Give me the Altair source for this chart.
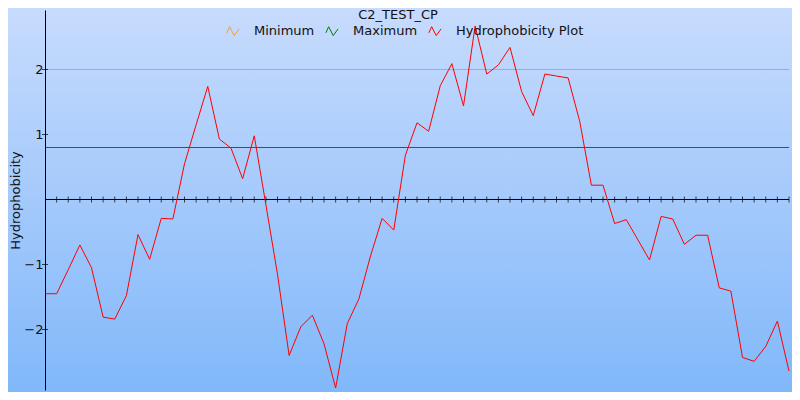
import altair as alt
import pandas as pd

# ---- data ----
positions = list(range(65))
hydro = [-1.45, -1.45, -1.08, -0.70, -1.05, -1.81, -1.84, -1.48, -0.54, -0.92,
         -0.29, -0.30, 0.55, 1.15, 1.74, 0.93, 0.79, 0.32, 0.98, -0.08,
         -1.15, -2.40, -1.96, -1.78, -2.22, -2.90, -1.91, -1.53, -0.87, -0.29,
         -0.47, 0.68, 1.18, 1.05, 1.75, 2.09, 1.44, 2.67, 1.93, 2.07,
         2.34, 1.66, 1.29, 1.93, 1.90, 1.87, 1.20, 0.22, 0.22, -0.37,
         -0.31, -0.62, -0.93, -0.26, -0.30, -0.69, -0.55, -0.55, -1.36, -1.41,
         -2.43, -2.49, -2.26, -1.87, -2.64]
minimum_value = 2.0
maximum_value = 0.80
series_names = ["Minimum", "Maximum", "Hydrophobicity Plot"]
series_colors = ["#f0a030", "#008000", "#ff0000"]
y_tick_values = [-2, -1, 1, 2]
y_domain = [-2.9308, 2.9154]
chart_title = "C2_TEST_CP"
y_title = "Hydrophobicity"

FONT = "DejaVu Sans"
W, H = 744, 380
PAD = {"left": 37, "top": 2, "right": 3, "bottom": 2}
X_MAX = positions[-1]

df = pd.DataFrame({"pos": positions, "value": hydro, "series": "Hydrophobicity Plot"})
ticks_df = pd.DataFrame({"pos": positions[1:], "zero": 0.0})
ytick_df = pd.DataFrame({"v": y_tick_values, "zero": 0.0})
min_df = pd.DataFrame({"v": [minimum_value], "x0": [0], "x1": [X_MAX]})
max_df = pd.DataFrame({"v": [maximum_value], "x0": [0], "x1": [X_MAX]})
axis_df = pd.DataFrame({"x0": [0], "x1": [X_MAX], "v": [0.0]})

xscale = alt.Scale(domain=[0, X_MAX], nice=False, zero=False)
yscale = alt.Scale(domain=y_domain, nice=False, zero=False)
cscale = alt.Scale(domain=series_names, range=series_colors)

yaxis = alt.Axis(values=y_tick_values, ticks=False, grid=False, domain=True,
                 domainColor="black", domainWidth=1, zindex=2,
                 labelFont=FONT, labelFontSize=13, labelColor="#111111",
                 labelPadding=2, title=y_title, titleFont=FONT,
                 titleFontSize=13, titleFontWeight="normal", titleColor="#111111",
                 titleX=-30, titleY=H / 2, titleAngle=270,
                 titleAlign="center", titleBaseline="middle")

zigzag = "M-1,0.3 L-0.55,-0.7 L0.2,0.75 L1,-0.35"
legend = alt.Legend(title=None, orient="none", legendX=181, legendY=14,
                    direction="horizontal", columns=3, zindex=2,
                    symbolType=zigzag, symbolSize=150,
                    symbolStrokeWidth=1, symbolFillColor="transparent",
                    labelFont=FONT, labelFontSize=13, labelColor="#111111",
                    labelOffset=14, columnPadding=8, padding=0)


def X(field):
    return alt.X(field, scale=xscale, axis=None, title=None)


def Y(field):
    return alt.Y(field, scale=yscale, axis=yaxis)


line = alt.Chart(df).mark_line(strokeWidth=1, interpolate="linear").encode(
    x=X("pos:Q"),
    y=Y("value:Q"),
    color=alt.Color("series:N", scale=cscale, legend=legend),
)

bg = alt.Chart(alt.Data(values=[{}])).mark_rect(
    fill=alt.LinearGradient(
        gradient="linear",
        stops=[alt.GradientStop(color="#c7dbfd", offset=0),
               alt.GradientStop(color="#81b8fa", offset=1)],
        x1=0, x2=0, y1=0, y2=1),
    strokeWidth=0,
).encode(x=alt.value(-PAD["left"]), x2=alt.value(W + PAD["right"]),
         y=alt.value(-PAD["top"]), y2=alt.value(H + PAD["bottom"]))

xaxis_line = alt.Chart(axis_df).mark_rule(color="black", strokeWidth=1).encode(
    x=X("x0:Q"), x2="x1:Q", y=Y("v:Q"),
)

xticks = alt.Chart(ticks_df).mark_tick(orient="vertical", size=6, thickness=1, color="black").encode(
    x=X("pos:Q"), y=Y("zero:Q"),
)

yticks = alt.Chart(ytick_df).mark_tick(orient="horizontal", size=6, thickness=1, color="black").encode(
    y=Y("v:Q"), x=X("zero:Q"),
)

min_line = alt.Chart(min_df).mark_rule(strokeWidth=1, stroke=series_colors[0]).encode(
    y=Y("v:Q"), x=X("x0:Q"), x2="x1:Q",
)
max_line = alt.Chart(max_df).mark_rule(strokeWidth=1, stroke=series_colors[1]).encode(
    y=Y("v:Q"), x=X("x0:Q"), x2="x1:Q",
)

title = alt.Chart(alt.Data(values=[{}])).mark_text(
    text=chart_title, font=FONT, fontSize=13, color="#111111",
    align="center", baseline="alphabetic",
).encode(x=alt.value(353), y=alt.value(9))

chart = alt.layer(bg, min_line, max_line, xaxis_line, xticks, yticks, line, title).properties(
    width=W, height=H,
    autosize=alt.AutoSizeParams(type="none"),
    padding=PAD,
).configure_view(stroke=None)

chart.save("out.html", embed_options={"renderer": "svg", "actions": False})
